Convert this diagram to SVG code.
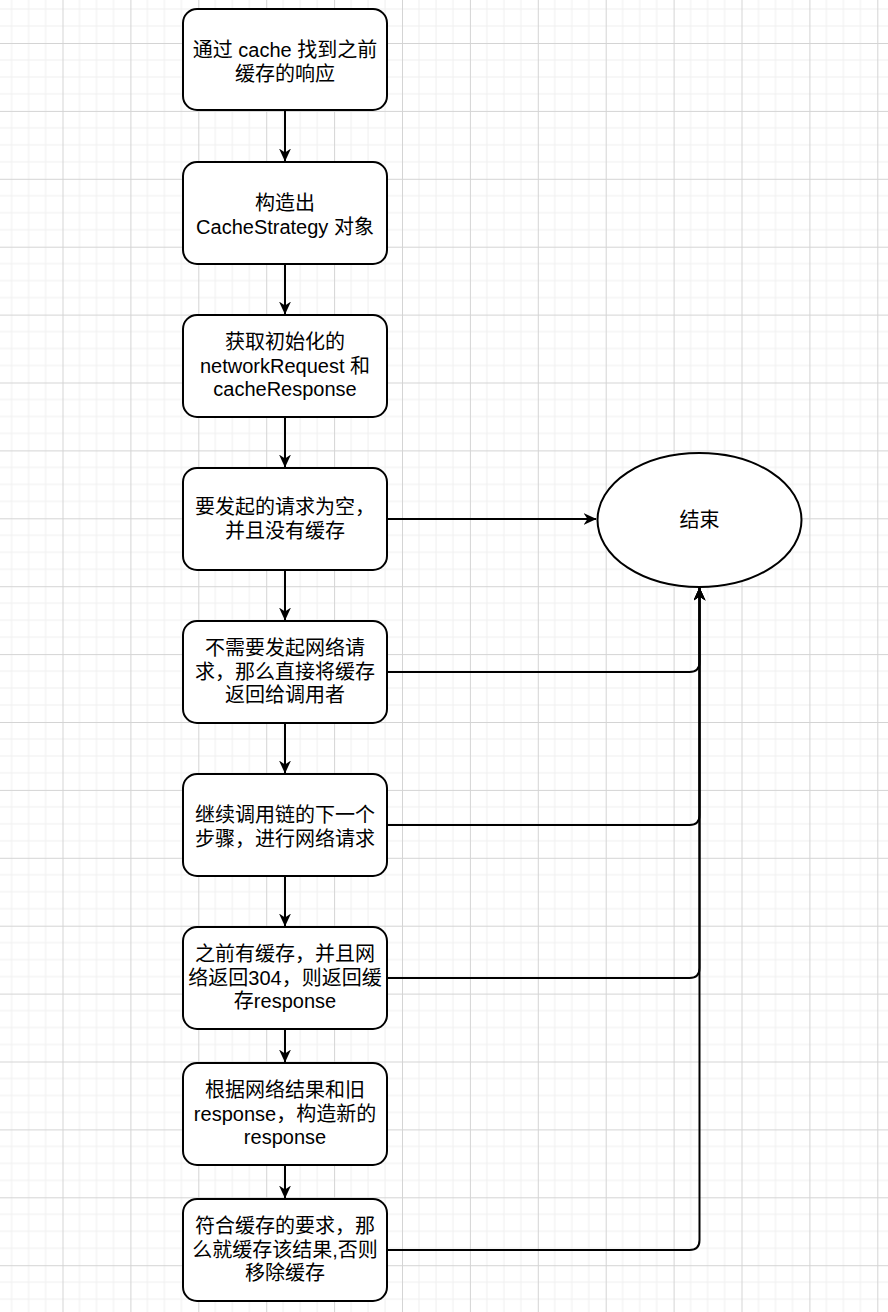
<svg xmlns="http://www.w3.org/2000/svg" width="888" height="1312" viewBox="0 0 888 1312">
<style>
.box{fill:#fff;stroke:#000;stroke-width:2}
.t{font-family:"Liberation Sans","Noto Sans CJK SC",sans-serif;font-size:20px;fill:#000;text-anchor:middle}
.c{fill:none;stroke:#000;stroke-width:2}
</style>
<defs>
<pattern id="grid" patternUnits="userSpaceOnUse" x="62.5" y="43" width="67.9" height="67.9">
<g stroke="#efefef" stroke-width="1">
<line x1="17" y1="0" x2="17" y2="67.9"/><line x1="34" y1="0" x2="34" y2="67.9"/><line x1="51" y1="0" x2="51" y2="67.9"/>
<line x1="0" y1="17" x2="67.9" y2="17"/><line x1="0" y1="34" x2="67.9" y2="34"/><line x1="0" y1="51" x2="67.9" y2="51"/>
</g>
<g stroke="#d4d4d4" stroke-width="1">
<line x1="0.5" y1="0" x2="0.5" y2="67.9"/><line x1="0" y1="0.5" x2="67.9" y2="0.5"/>
</g>
</pattern>
<marker id="arr" viewBox="0 0 13 12" refX="12.5" refY="6" markerWidth="13" markerHeight="12" markerUnits="userSpaceOnUse" orient="auto">
<path d="M0,0 L13,6 L0,12 L4,6 z" fill="#000"/>
</marker>
</defs>
<rect width="888" height="1312" fill="#fff"/>
<rect width="888" height="1312" fill="url(#grid)"/>
<g id="connectors">
<path class="c" d="M285,110 V161" marker-end="url(#arr)"/>
<path class="c" d="M285,264 V314" marker-end="url(#arr)"/>
<path class="c" d="M285,417 V467" marker-end="url(#arr)"/>
<path class="c" d="M285,570 V620" marker-end="url(#arr)"/>
<path class="c" d="M285,723 V773" marker-end="url(#arr)"/>
<path class="c" d="M285,876 V926" marker-end="url(#arr)"/>
<path class="c" d="M285,1029 V1062" marker-end="url(#arr)"/>
<path class="c" d="M285,1165 V1198" marker-end="url(#arr)"/>
<path class="c" d="M387,519 H596" marker-end="url(#arr)"/>
<path class="c" d="M387,672 H689.5 Q699.5,672 699.5,662 V588" marker-end="url(#arr)"/>
<path class="c" d="M387,825 H689.5 Q699.5,825 699.5,815 V588" marker-end="url(#arr)"/>
<path class="c" d="M387,978 H689.5 Q699.5,978 699.5,968 V588" marker-end="url(#arr)"/>
<path class="c" d="M387,1250 H689.5 Q699.5,1250 699.5,1240 V588" marker-end="url(#arr)"/>
</g>
<g id="n1"><rect class="box" x="183" y="9" width="204" height="101" rx="14"/><text class="t" x="285" y="57">通过 cache 找到之前</text><text class="t" x="285" y="80.5">缓存的响应</text></g>
<g id="n2"><rect class="box" x="183" y="162" width="204" height="102" rx="14"/><text class="t" x="285" y="210">构造出</text><text class="t" x="285" y="233.5">CacheStrategy 对象</text></g>
<g id="n3"><rect class="box" x="183" y="315" width="204" height="102" rx="14"/><text class="t" x="285" y="349">获取初始化的</text><text class="t" x="285" y="372.5">networkRequest 和</text><text class="t" x="285" y="396">cacheResponse</text></g>
<g id="n4"><rect class="box" x="183" y="468" width="204" height="102" rx="14"/><text class="t" x="285" y="514">要发起的请求为空，</text><text class="t" x="285" y="537.5">并且没有缓存</text></g>
<g id="n5"><rect class="box" x="183" y="621" width="204" height="102" rx="14"/><text class="t" x="285" y="655">不需要发起网络请</text><text class="t" x="285" y="678.5">求，那么直接将缓存</text><text class="t" x="285" y="702">返回给调用者</text></g>
<g id="n6"><rect class="box" x="183" y="774" width="204" height="102" rx="14"/><text class="t" x="285" y="822">继续调用链的下一个</text><text class="t" x="285" y="845.5">步骤，进行网络请求</text></g>
<g id="n7"><rect class="box" x="183" y="927" width="204" height="102" rx="14"/><text class="t" x="285" y="961">之前有缓存，并且网</text><text class="t" x="285" y="984.5">络返回304，则返回缓</text><text class="t" x="285" y="1008">存response</text></g>
<g id="n8"><rect class="box" x="183" y="1063" width="204" height="102" rx="14"/><text class="t" x="285" y="1097">根据网络结果和旧</text><text class="t" x="285" y="1120.5">response，构造新的</text><text class="t" x="285" y="1144">response</text></g>
<g id="n9"><rect class="box" x="183" y="1199" width="204" height="102" rx="14"/><text class="t" x="285" y="1233">符合缓存的要求，那</text><text class="t" x="285" y="1256.5">么就缓存该结果,否则</text><text class="t" x="285" y="1280">移除缓存</text></g>
<g id="end"><ellipse class="box" cx="699.5" cy="520" rx="102" ry="67"/><text class="t" x="699.5" y="527">结束</text></g>
</svg>
